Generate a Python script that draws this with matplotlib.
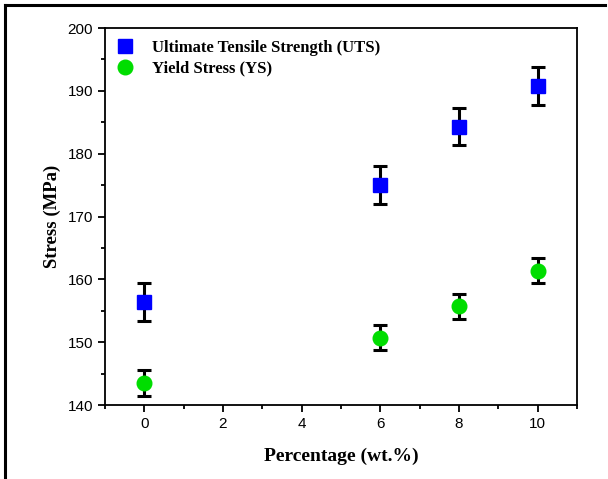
import matplotlib
matplotlib.use("Agg")
import matplotlib.pyplot as plt
from matplotlib.lines import Line2D
from matplotlib.ticker import MultipleLocator

# data
pct = [0, 6, 8, 10]
uts = [156.4, 175.0, 184.3, 190.8]
uts_err = [3.0, 3.0, 3.0, 3.0]
ys = [143.5, 150.7, 155.7, 161.4]
ys_err = [2.0, 2.0, 2.0, 2.0]

serif = "Liberation Serif"
sans = "Liberation Sans"

fig = plt.figure(figsize=(6.08, 4.79), dpi=100)
ax = fig.add_axes([105 / 608, 1 - 405 / 479, 472 / 608, 377 / 479])

err_kw = dict(ecolor="black", elinewidth=2.2, capsize=5, capthick=2.2, ls="none")
ax.errorbar(pct, uts, yerr=uts_err, marker="s", ms=10.5, mfc="#0000FF", mec="#0000FF",
            zorder=3, **err_kw)
ax.errorbar(pct, ys, yerr=ys_err, marker="o", ms=10.5, mfc="#00DD00", mec="#00DD00",
            zorder=3, **err_kw)

ax.set_xlim(-1, 11)
ax.set_ylim(140, 200)
ax.xaxis.set_major_locator(MultipleLocator(2))
ax.xaxis.set_minor_locator(MultipleLocator(1))
ax.yaxis.set_major_locator(MultipleLocator(10))
ax.yaxis.set_minor_locator(MultipleLocator(5))
ax.tick_params(which="both", direction="out", top=False, right=False, width=1.3)
ax.tick_params(which="major", length=5, labelsize=11)
ax.tick_params(which="minor", length=3)
for lab in ax.get_xticklabels() + ax.get_yticklabels():
    lab.set_fontfamily(sans)
for s in ax.spines.values():
    s.set_linewidth(1.3)

ax.set_xlabel("Percentage (wt.%)", fontfamily=serif, fontweight="bold", fontsize=14, labelpad=12)
ax.set_ylabel("Stress (MPa)", fontfamily=serif, fontweight="bold", fontsize=13.5, labelpad=5)

handles = [
    Line2D([], [], marker="s", ls="none", ms=10.5, mfc="#0000FF", mec="#0000FF"),
    Line2D([], [], marker="o", ls="none", ms=10.5, mfc="#00DD00", mec="#00DD00"),
]
ax.legend(handles, ["Ultimate Tensile Strength (UTS)", "Yield Stress (YS)"],
          loc="upper left", bbox_to_anchor=(-0.017, 1.0), frameon=False,
          handletextpad=0.6, labelspacing=0.3, borderaxespad=0.3,
          prop=dict(family=serif, weight="bold", size=12))

# outer frame (left and top only)
fig.add_artist(Line2D([5 / 608, 5 / 608], [0, 1 - 5 / 479], transform=fig.transFigure,
                      color="black", lw=2.2))
fig.add_artist(Line2D([5 / 608, 605 / 608], [1 - 5 / 479, 1 - 5 / 479],
                      transform=fig.transFigure, color="black", lw=2.2))

fig.savefig("out.png", dpi=100)
